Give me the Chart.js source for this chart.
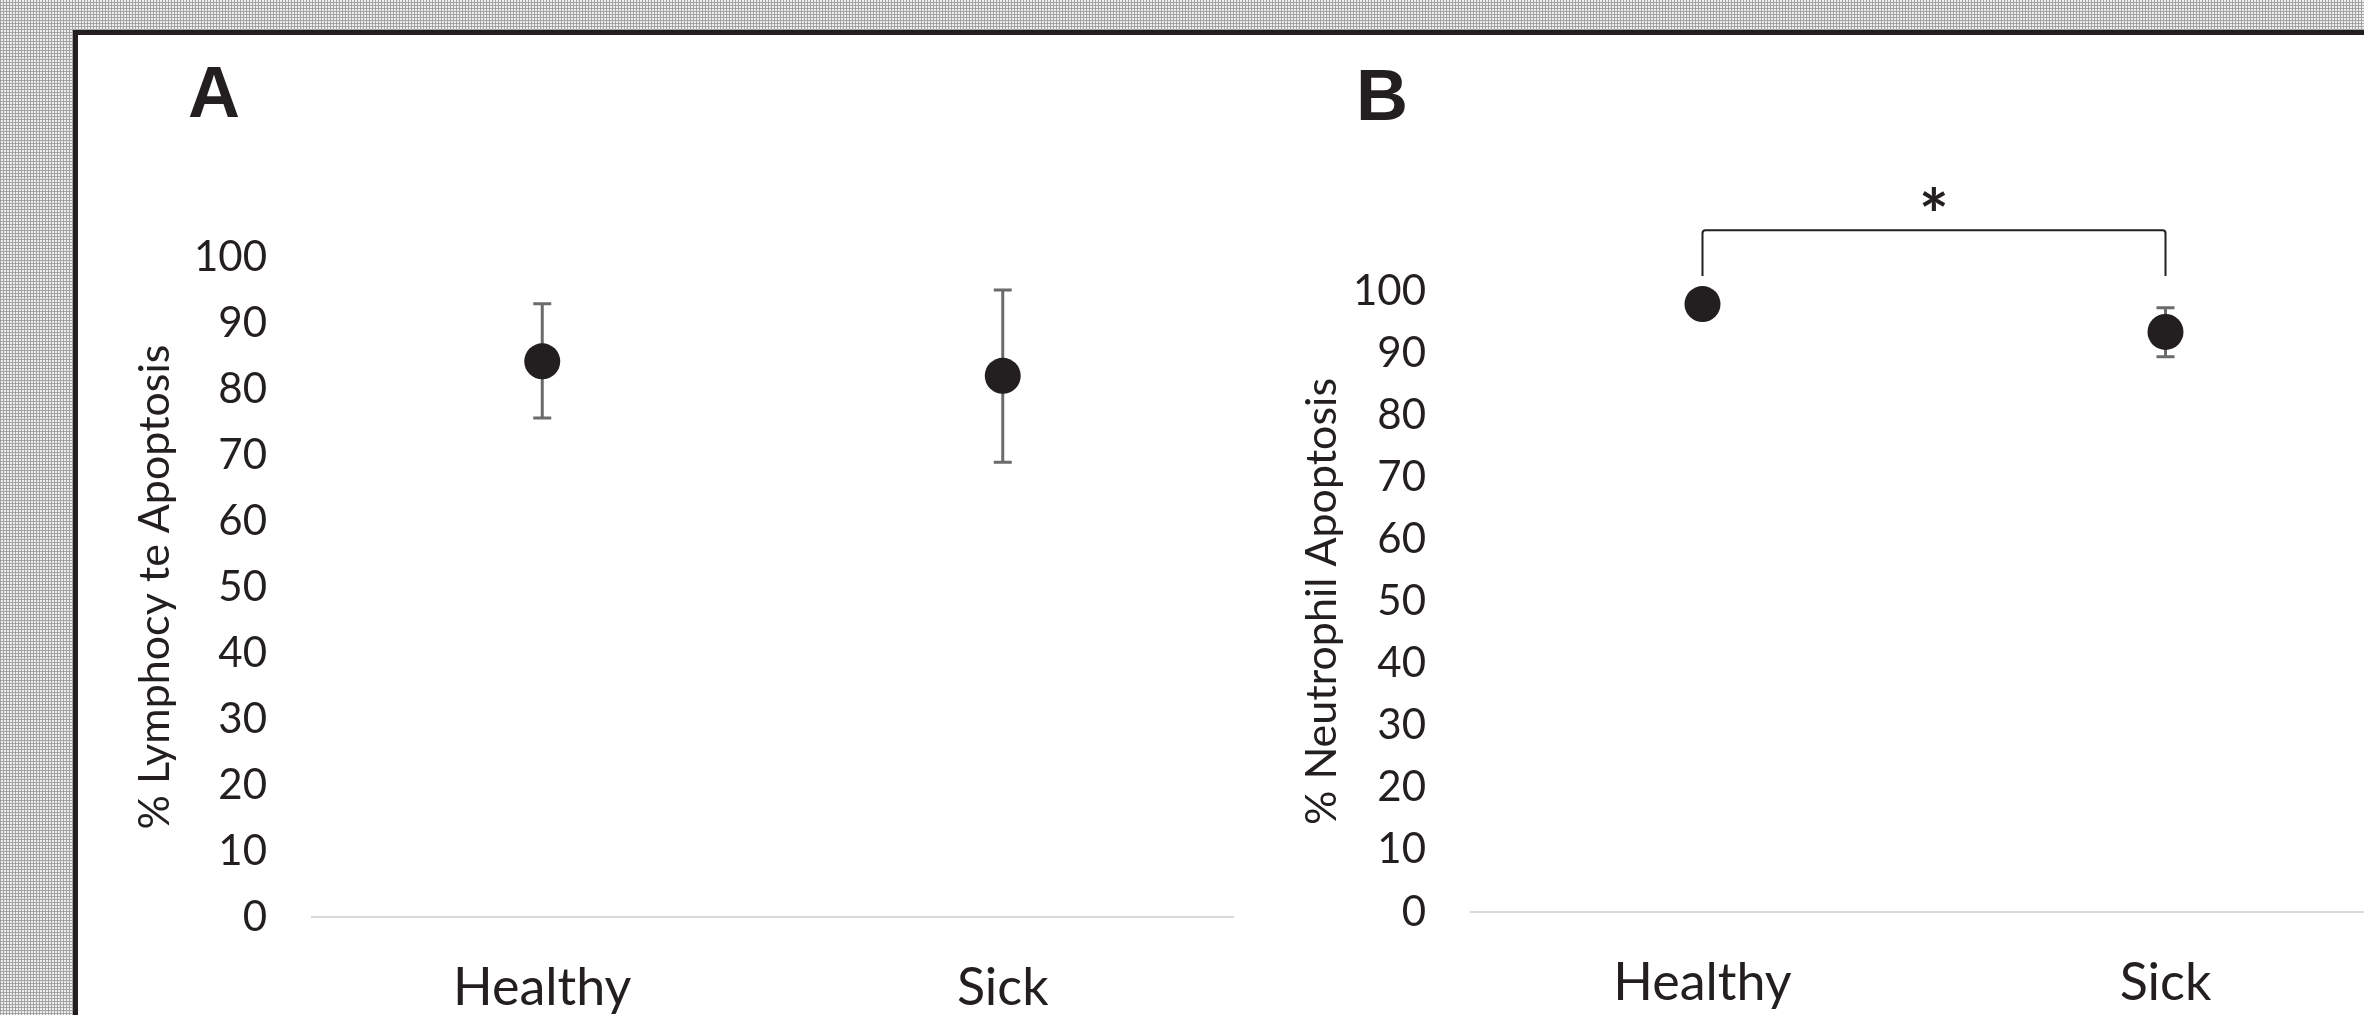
<!DOCTYPE html>
<html>
<head>
<meta charset="utf-8">
<script src="https://cdn.jsdelivr.net/npm/chart.js@4.4.1/dist/chart.umd.min.js"></script>
<style>
  html, body { margin: 0; padding: 0; width: 2364px; height: 1015px; overflow: hidden; }
  body {
    background:
      linear-gradient(90deg, #a4a4a6 1px, transparent 1px) 0 0 / 3px 3px,
      linear-gradient(0deg, #a4a4a6 1px, transparent 1px) 0 0 / 3px 3px,
      #eeeeee;
    position: relative;
  }
  #frame { position: absolute; left: 73px; top: 30px; width: 2400px; height: 1100px;
           background: #fff; border: 5px solid #231f20; box-sizing: border-box; }
  canvas { position: absolute; top: 0; }
  .panel { position: absolute; font-family: "Liberation Sans", Arial, sans-serif; font-weight: bold;
           font-size: 72px; line-height: 72px; color: #231f20; }
</style>
</head>
<body>
<div id="frame"></div>
<canvas id="chartA" width="1220" height="1100" style="left:80px"></canvas>
<canvas id="chartB" width="1300" height="1100" style="left:1250px"></canvas>
<div class="panel" style="left:188px; top:56px">A</div>
<div class="panel" style="left:1356px; top:59px">B</div>
<script>
// groups on the x axis
const categories = ['Healthy', 'Sick'];
const yTicks = [0, 10, 20, 30, 40, 50, 60, 70, 80, 90, 100];

// panel A: lymphocyte apoptosis (%)
const lymphMean = [84.2, 82.0];
const lymphLow = [75.6, 68.9];
const lymphHigh = [92.9, 95.0];

// panel B: neutrophil apoptosis (%)
const neutMean = [97.9, 93.4];
const neutLow = [null, 89.4];
const neutHigh = [null, 97.3];

// significance bracket over panel B
const bracketTop = 109.8;
const bracketFoot = 102.4;
const starLevel = 114.0;

const ink = '#231f20';

// error bars, drawn under the markers
const errorBars = {
  id: 'errorBars',
  beforeDatasetsDraw(chart) {
    const ctx = chart.ctx;
    const y = chart.scales.y;
    chart.data.datasets.forEach((ds, di) => {
      chart.getDatasetMeta(di).data.forEach((pt, i) => {
        if (ds.errLow[i] == null) return;
        const top = y.getPixelForValue(ds.errHigh[i]);
        const bot = y.getPixelForValue(ds.errLow[i]);
        ctx.save();
        ctx.strokeStyle = '#6b6b6b';
        ctx.lineWidth = 3;
        ctx.beginPath();
        ctx.moveTo(pt.x, top); ctx.lineTo(pt.x, bot);
        ctx.moveTo(pt.x - 9, top); ctx.lineTo(pt.x + 9, top);
        ctx.moveTo(pt.x - 9, bot); ctx.lineTo(pt.x + 9, bot);
        ctx.stroke();
        ctx.restore();
      });
    });
  }
};

// bracket with the star between the two groups
const bracket = {
  id: 'bracket',
  afterDraw(chart, args, opts) {
    if (!opts.show) return;
    const ctx = chart.ctx;
    const x = chart.scales.x, y = chart.scales.y;
    const x1 = x.getPixelForValue(0), x2 = x.getPixelForValue(1);
    const yt = y.getPixelForValue(bracketTop), yf = y.getPixelForValue(bracketFoot);
    ctx.save();
    ctx.strokeStyle = ink;
    ctx.lineWidth = 2;
    ctx.beginPath();
    ctx.moveTo(x1, yf);
    ctx.lineTo(x1, yt + 3);
    ctx.quadraticCurveTo(x1, yt, x1 + 3, yt);
    ctx.lineTo(x2 - 3, yt);
    ctx.quadraticCurveTo(x2, yt, x2, yt + 3);
    ctx.lineTo(x2, yf);
    ctx.stroke();
    ctx.fillStyle = ink;
    ctx.font = 'bold 70px Lato';
    ctx.textAlign = 'center';
    ctx.textBaseline = 'middle';
    ctx.fillText('*', (x1 + x2) / 2, y.getPixelForValue(starLevel) + 14);
    ctx.restore();
  }
};

function makeChart(id, title, mean, low, high, pad, yWidth, showBracket) {
  return new Chart(document.getElementById(id), {
    type: 'line',
    plugins: [errorBars, bracket],
    data: {
      labels: categories,
      datasets: [{
        data: mean,
        errLow: low,
        errHigh: high,
        showLine: false,
        clip: false,
        pointRadius: 18,
        pointHoverRadius: 18,
        pointBackgroundColor: ink,
        pointBorderColor: ink,
        pointBorderWidth: 0
      }]
    },
    options: {
      responsive: false,
      devicePixelRatio: 1,
      animation: false,
      events: [],
      layout: { padding: pad },
      plugins: {
        legend: { display: false },
        tooltip: { enabled: false },
        bracket: { show: showBracket }
      },
      scales: {
        x: {
          type: 'category',
          offset: true,
          grid: { display: false, drawTicks: false },
          border: { display: true, color: '#d9d9d9', width: 2 },
          ticks: { color: ink, font: { family: 'Lato', size: 52 }, padding: 40 },
          afterFit(s) { s.height = 1100 - pad.top - pad.chartH; }
        },
        y: {
          min: 0,
          max: 100,
          afterBuildTicks(s) { s.ticks = yTicks.map(v => ({ value: v })); },
          grid: { display: false, drawTicks: false },
          border: { display: false },
          ticks: { color: ink, font: { family: 'Lato', size: 42 }, padding: 45 },
          title: {
            display: true,
            text: title,
            color: ink,
            font: { family: 'Lato', size: 43 },
            padding: 0
          },
          afterFit(s) { s.width = yWidth; }
        }
      }
    }
  });
}

makeChart('chartA', '% Lymphocy te Apoptosis', lymphMean, lymphLow, lymphHigh,
  { left: 49, right: 67, top: 257, bottom: 0, chartH: 660 }, 183, false);
makeChart('chartB', '% Neutrophil Apoptosis', neutMean, neutLow, neutHigh,
  { left: 46, right: 153, top: 291, bottom: 0, chartH: 621 }, 175, true);
</script>
</body>
</html>
